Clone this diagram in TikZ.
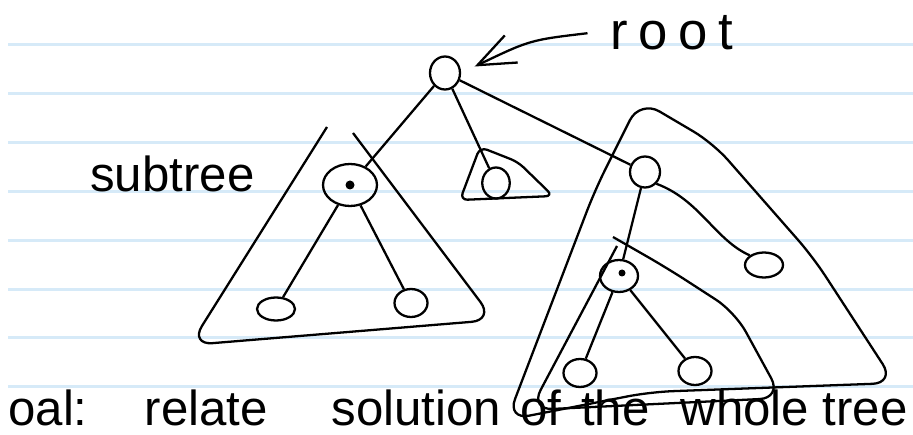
\documentclass[tikz,border=0pt]{standalone}
\usepackage{fontspec}
\setmainfont{Liberation Sans}
\usetikzlibrary{arrows.meta,shapes.geometric}
\definecolor{ruleblue}{RGB}{214,234,248}
\begin{document}
\begin{tikzpicture}[x=0.02cm,y=-0.02cm,>={Straight Barb[length=0.75cm,width=0.6cm]},
  vertex/.style={draw,ellipse,line width=1.3pt,minimum width=0.66cm,minimum height=0.56cm,inner sep=0pt},
  edge/.style={line width=1.3pt},
  hull/.style={line width=1.3pt,rounded corners=0.45cm},
  rule/.style={line width=0.06cm,ruleblue},
  hand/.style={inner sep=0pt,anchor=base west,font=\fontsize{28}{30}\selectfont}]
\useasboundingbox (0,0) rectangle (913,435);
\clip (0,0) rectangle (913,435);
\foreach \y in {45,94,143,192,241,290,338,387}
  \draw[rule] (8,\y) -- (913,\y);
\node[vertex,minimum width=0.6cm,minimum height=0.66cm] (root) at (445,73) {};
\node[vertex,minimum width=1.08cm,minimum height=0.84cm] (sub1) at (350,185) {};
\node[vertex,minimum width=0.55cm,minimum height=0.62cm] (mid) at (496,183) {};
\node[vertex,minimum width=0.6cm,minimum height=0.62cm] (right) at (645,172) {};
\node[vertex,minimum width=0.76cm,minimum height=0.46cm] (l1) at (276,309) {};
\node[vertex] (l2) at (411,303) {};
\node[vertex,minimum width=0.76cm,minimum height=0.64cm] (r1) at (619,276) {};
\node[vertex,minimum width=0.76cm,minimum height=0.5cm] (r2) at (764,265) {};
\node[vertex] (r11) at (580,373) {};
\node[vertex] (r12) at (695,371) {};
\fill (sub1) circle[radius=0.09cm];
\fill (r1) ++(3,-3) circle[radius=0.07cm];
\draw[edge] (root) -- (sub1);
\draw[edge] (root) -- (mid);
\draw[edge] (root) -- (right);
\draw[edge] (sub1) -- (l1);
\draw[edge] (sub1) -- (l2);
\draw[edge] (right) -- (r1);
\draw[edge] (right.south east) .. controls (700,200) and (715,240) .. (r2.north west);
\draw[edge] (r1) -- (r11);
\draw[edge] (r1) -- (r12);
\draw[hull] (327,127) -- (190,345) -- (494,320) -- (353,133);
\draw[hull,rounded corners=0.15cm] (480,147) -- (518,162) -- (553,196) -- (460,200) -- cycle;
\draw[hull] (595,190) -- (507,420) -- (650,392) -- (895,383) -- (813,257) -- (713,143) -- (640,100) -- cycle;
\draw[hull] (613,237) -- (667,268) -- (735,312) -- (782,398) -- (530,410) -- (617,246);
\node[hand] (sublbl) at (90,192) {subtree};
\node[hand,font=\fontsize{30}{32}\selectfont\addfontfeature{LetterSpace=20}] (rootlbl) at (610,50) {root};
\draw[edge,->,shorten >=0.3cm] ([xshift=-0.45cm]rootlbl.west) .. controls (530,40) .. (root.east);
\node[hand] (goal) at (8,426) {oal:\hspace{1.14cm}relate\hspace{1.28cm}solution\hspace{0.38cm}of\hspace{0.4cm}the\hspace{0.62cm}whole tree};
\end{tikzpicture}
\end{document}
